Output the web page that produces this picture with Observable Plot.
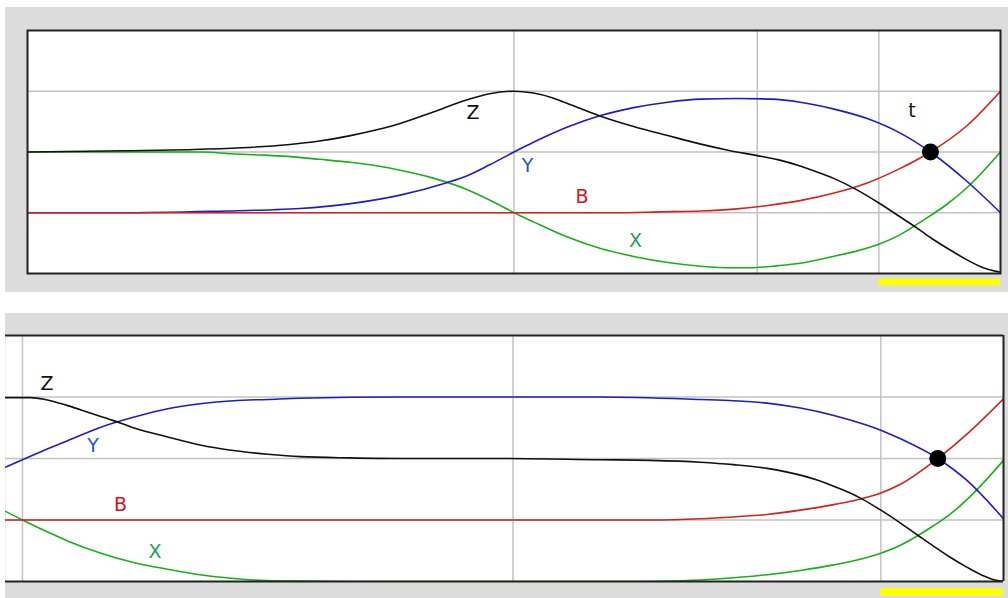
<!DOCTYPE html>
<html>
<head>
<meta charset="utf-8">
<script src="https://cdn.jsdelivr.net/npm/d3@7"></script>
<script src="https://cdn.jsdelivr.net/npm/@observablehq/plot@0.6"></script>
<style>
  html, body { margin: 0; padding: 0; background: #ffffff; }
  #topPanel { position: absolute; left: 5px; top: 7px; }
  #bottomPanel { position: absolute; left: 5px; top: 313px; }
</style>
</head>
<body>
<div id="topPanel"></div>
<div id="bottomPanel"></div>
<script>
// ---------- data: top panel ([x, value]) ----------
const topZ = [[0,2.0],[0.1,2.02],[0.171,2.04],[0.22,2.07],[0.267,2.12],[0.30,2.18],[0.332,2.27],[0.36,2.37],[0.383,2.47],[0.417,2.66],[0.452,2.86],[0.475,2.96],[0.5,3.0],[0.52,2.97],[0.54,2.89],[0.555,2.80],[0.589,2.59],[0.623,2.42],[0.658,2.27],[0.692,2.13],[0.72,2.03],[0.75,1.94],[0.772,1.87],[0.794,1.77],[0.81,1.68],[0.828,1.57],[0.852,1.38],[0.875,1.16],[0.897,0.93],[0.915,0.74],[0.931,0.56],[0.95,0.37],[0.966,0.22],[0.983,0.09],[1.0,0.02]];
const topY = [[0,1.0],[0.094,1.0],[0.205,1.03],[0.253,1.05],[0.28,1.07],[0.332,1.15],[0.383,1.29],[0.43,1.49],[0.452,1.61],[0.475,1.79],[0.5,2.0],[0.52,2.16],[0.555,2.41],[0.589,2.6],[0.623,2.73],[0.658,2.82],[0.692,2.87],[0.73,2.88],[0.764,2.87],[0.794,2.82],[0.828,2.71],[0.863,2.55],[0.897,2.31],[0.928,2.0],[0.966,1.51],[1.0,1.0]];
const topB = [[0,1.0],[0.6,1.0],[0.65,1.015],[0.692,1.03],[0.726,1.06],[0.761,1.12],[0.794,1.2],[0.828,1.32],[0.863,1.49],[0.897,1.73],[0.928,2.0],[0.966,2.44],[1.0,3.0]];
const topX = [[0,2.0],[0.18,2.0],[0.209,1.97],[0.24,1.95],[0.273,1.92],[0.30,1.88],[0.332,1.83],[0.36,1.77],[0.383,1.70],[0.417,1.57],[0.452,1.38],[0.486,1.12],[0.5,1.0],[0.52,0.85],[0.555,0.6],[0.589,0.41],[0.623,0.28],[0.658,0.18],[0.692,0.12],[0.726,0.095],[0.743,0.095],[0.772,0.13],[0.794,0.17],[0.828,0.28],[0.85,0.36],[0.875,0.48],[0.897,0.64],[0.92,0.87],[0.945,1.14],[0.966,1.42],[1.0,2.0]];
const topLabels = [["Z",0.458,2.64],["Y",0.514,1.77],["B",0.570,1.26],["X",0.625,0.53],["t",0.909,2.68]];
const topDot = [[0.928,2.0]];
const topGridX = [0.5,0.75,0.875];

// ---------- data: bottom panel ----------
const botZ = [[-0.0173,2.99],[0.008,2.99],[0.023,2.96],[0.046,2.86],[0.069,2.74],[0.092,2.62],[0.113,2.50],[0.148,2.35],[0.181,2.22],[0.215,2.13],[0.25,2.07],[0.283,2.03],[0.334,2.01],[0.385,2.0],[0.487,2.0],[0.589,1.98],[0.64,1.97],[0.691,1.94],[0.725,1.90],[0.759,1.84],[0.793,1.73],[0.81,1.65],[0.827,1.55],[0.842,1.45],[0.856,1.34],[0.875,1.16],[0.895,0.95],[0.912,0.76],[0.929,0.57],[0.946,0.39],[0.963,0.23],[0.98,0.09],[0.99,0.03],[1.0,0.0]];
const botY = [[-0.0173,1.86],[0,1.98],[0.029,2.18],[0.046,2.29],[0.08,2.51],[0.113,2.67],[0.148,2.81],[0.181,2.89],[0.215,2.94],[0.25,2.96],[0.283,2.98],[0.385,3.0],[0.589,3.0],[0.691,2.96],[0.725,2.94],[0.759,2.9],[0.793,2.82],[0.827,2.7],[0.861,2.54],[0.875,2.46],[0.895,2.32],[0.933,2.0],[0.963,1.64],[1.0,1.02]];
const botB = [[-0.0173,1.0],[0.64,1.0],[0.691,1.02],[0.725,1.05],[0.759,1.09],[0.793,1.16],[0.827,1.25],[0.861,1.37],[0.875,1.44],[0.895,1.58],[0.933,2.0],[0.963,2.4],[1.0,2.97]];
const botX = [[-0.0173,1.14],[0,1.0],[0.029,0.78],[0.046,0.66],[0.08,0.46],[0.113,0.31],[0.148,0.20],[0.181,0.11],[0.215,0.05],[0.248,0.015],[0.304,0.005],[0.35,0],[0.62,0],[0.65,0.005],[0.691,0.025],[0.725,0.06],[0.759,0.11],[0.793,0.18],[0.827,0.27],[0.856,0.37],[0.875,0.46],[0.895,0.59],[0.912,0.74],[0.929,0.91],[0.946,1.1],[0.969,1.43],[1.0,1.97]];
const botLabels = [["Z",0.025,3.21],["Y",0.072,2.20],["B",0.100,1.25],["X",0.135,0.48]];
const botDot = [[0.933,2.0]];
const botGridX = [0,0.5,0.875];

const gridY = [1,2,3];
const yellowBar = [[0.875,1.0]];

// ---------- styles ----------
const seriesColor = {Z:"#111111", Y:"#1c1cc8", B:"#d42020", X:"#18b018"};
const labelColor = {Z:"#111111", Y:"#1e5bb5", B:"#d41414", X:"#1ca050", t:"#111111"};
const gridColor = "#c2c2c2";

function lines(series) {
  const order = ["X","Y","B","Z"];
  return order.map(k => Plot.line(series[k], {
    x: d => d[0], y: d => d[1], stroke: seriesColor[k], strokeWidth: 1.6, curve: "monotone-x", clip: true
  }));
}

function texts(labels) {
  return Plot.text(labels, {
    x: d => d[1], y: d => d[2], text: d => d[0],
    fill: d => labelColor[d[0]], fontSize: 19, textAnchor: "middle", lineAnchor: "middle"
  });
}

// ---------- top panel ----------
const topChart = Plot.plot({
  width: 1003, height: 285,
  marginLeft: 22, marginRight: 8, marginTop: 23, marginBottom: 19,
  style: {background: "#dcdcdc", fontFamily: "DejaVu Sans, sans-serif", overflow: "visible"},
  x: {domain: [0, 1], axis: null},
  y: {domain: [0, 4], axis: null},
  marks: [
    Plot.frame({fill: "white", stroke: "none"}),
    Plot.ruleY(gridY, {stroke: gridColor, strokeWidth: 1.5}),
    Plot.ruleX(topGridX, {stroke: gridColor, strokeWidth: 1.5}),
    ...lines({Z: topZ, Y: topY, B: topB, X: topX}),
    texts(topLabels),
    Plot.dot(topDot, {x: d => d[0], y: d => d[1], r: 8.5, fill: "black", stroke: "none"}),
    Plot.rect(yellowBar, {x1: d => d[0], x2: d => d[1], y1: -0.09, y2: -0.2, fill: "#ffff00"}),
    Plot.frame({stroke: "#222", strokeWidth: 2})
  ]
});
document.getElementById("topPanel").appendChild(topChart);

// ---------- bottom panel ----------
const bottomChart = Plot.plot({
  width: 1003, height: 285,
  marginLeft: 0, marginRight: 5, marginTop: 22, marginBottom: 17,
  style: {background: "#dcdcdc", fontFamily: "DejaVu Sans, sans-serif", overflow: "visible"},
  x: {domain: [-0.0173, 1], axis: null},
  y: {domain: [0, 4], axis: null},
  marks: [
    Plot.frame({fill: "white", stroke: "none"}),
    Plot.ruleY(gridY, {stroke: gridColor, strokeWidth: 1.5}),
    Plot.ruleX(botGridX, {stroke: gridColor, strokeWidth: 1.5}),
    ...lines({Z: botZ, Y: botY, B: botB, X: botX}),
    texts(botLabels),
    Plot.dot(botDot, {x: d => d[0], y: d => d[1], r: 8.5, fill: "black", stroke: "none"}),
    Plot.rect(yellowBar, {x1: d => d[0], x2: d => d[1], y1: -0.114, y2: -0.24, fill: "#ffff00"}),
    Plot.ruleY([0, 4], {stroke: "#222", strokeWidth: 2}),
    Plot.ruleX([1], {stroke: "#222", strokeWidth: 2})
  ]
});
document.getElementById("bottomPanel").appendChild(bottomChart);
</script>
</body>
</html>
